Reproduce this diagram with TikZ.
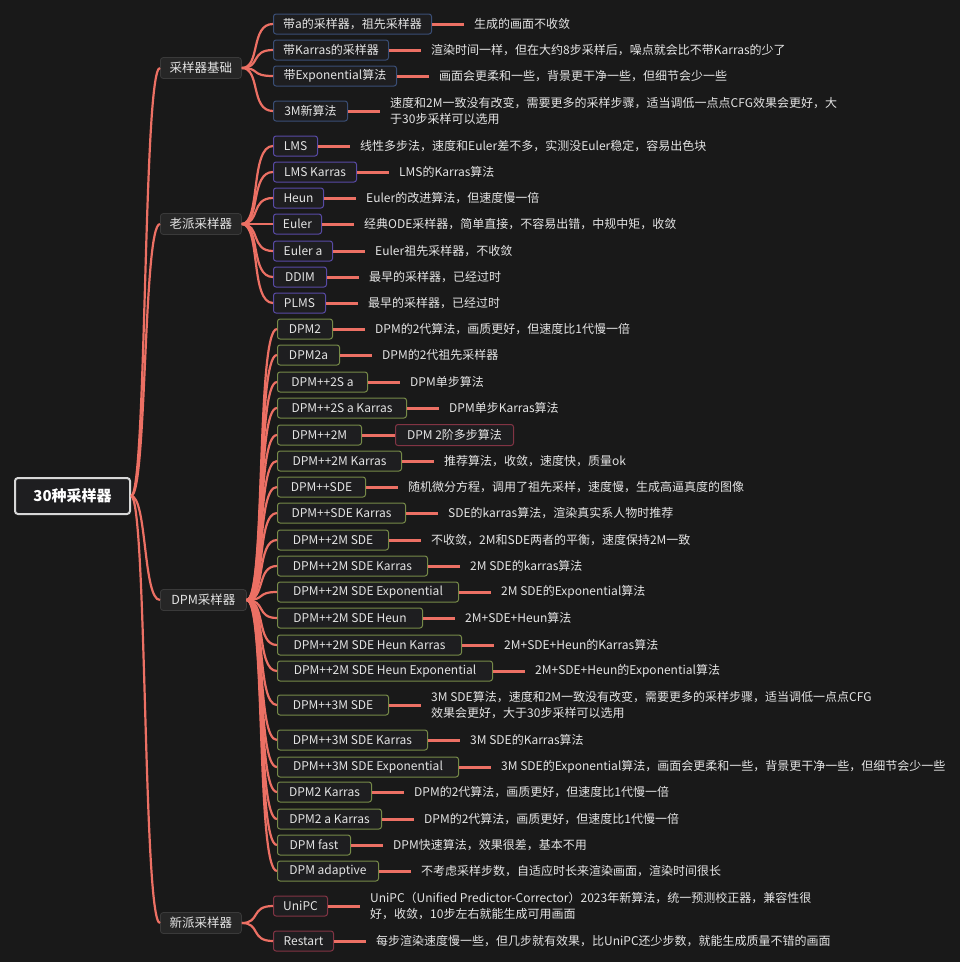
\documentclass[tikz,border=0pt]{standalone}
\usepackage{fontspec}
\setmainfont{Noto Sans CJK SC}
\definecolor{bgc}{RGB}{25,25,25}
\definecolor{boxfill}{RGB}{30,30,32}
\definecolor{lonefill}{RGB}{38,38,38}
\definecolor{loneborder}{RGB}{58,58,58}
\definecolor{txt}{RGB}{228,228,228}
\definecolor{conn}{RGB}{236,112,100}
\definecolor{blueB}{RGB}{58,78,118}
\definecolor{purpB}{RGB}{88,74,165}
\definecolor{greenB}{RGB}{118,138,72}
\definecolor{maroonB}{RGB}{130,52,68}
\definecolor{rootB}{RGB}{215,215,215}
% name, style, x, y, width, label, description
\newcommand{\mleaf}[7]{%
  \node[#2, minimum width=#5pt] (#1) at (#3,#4) {#6};
  \node[desc] (#1d) at ([xshift=42pt]#1.east) {#7};
  \draw[dline] (#1.east) -- ([xshift=-10pt]#1d.west);
}
\begin{document}
\begin{tikzpicture}[x=1pt,y=-1pt,
  rootbox/.style={draw=rootB, line width=2pt, fill=boxfill, rounded corners=3pt, text=white,
    font=\fontsize{15}{18}\selectfont\bfseries, minimum width=115pt, minimum height=36pt, inner sep=0},
  lone/.style={draw=loneborder, line width=0.8pt, fill=lonefill, rounded corners=3pt, text=txt,
    font=\fontsize{12.5}{15}\selectfont, minimum height=21pt, inner sep=0, anchor=west},
  leaf/.style={fill=boxfill, line width=1pt, rounded corners=2.5pt, text=txt,
    font=\fontsize{12}{14}\selectfont, minimum height=20pt, inner ysep=0, inner xsep=4pt, anchor=west},
  lblue/.style={leaf, draw=blueB},
  lpurp/.style={leaf, draw=purpB},
  lgreen/.style={leaf, draw=greenB},
  lmaroon/.style={leaf, draw=maroonB},
  desc/.style={anchor=west, inner sep=0, text=txt, font=\fontsize{12}{16}\selectfont, align=left},
  cline/.style={draw=conn, line width=2.2pt},
  dline/.style={draw=conn, line width=3pt}
]
\fill[bgc] (0,0) rectangle (960,962);
\useasboundingbox (0,0) rectangle (960,962);

% root and level-1
\node[rootbox, anchor=west] (root) at (14,496) {30种采样器};
\node[lone, minimum width=81pt] (k1) at (160,68) {采样器基础};
\node[lone, minimum width=81pt] (k2) at (160,224) {老派采样器};
\node[lone, minimum width=86pt] (k3) at (160,600) {DPM采样器};
\node[lone, minimum width=81pt] (k4) at (160,923) {新派采样器};
\foreach \k in {k1,k2,k3,k4}
  \draw[cline] (root.east) .. controls +(16,0) and +(-17,0) .. (\k.west);

% group 1
\mleaf{a1}{lblue}{273}{24}{158}{带a的采样器，祖先采样器}{生成的画面不收敛}
\mleaf{a2}{lblue}{273}{50}{115}{带Karras的采样器}{渲染时间一样，但在大约8步采样后，噪点就会比不带Karras的少了}
\mleaf{a3}{lblue}{273}{76}{123}{带Exponential算法}{画面会更柔和一些，背景更干净一些，但细节会少一些}
\mleaf{a4}{lblue}{273}{111}{74}{3M新算法}{速度和2M一致没有改变，需要更多的采样步骤，适当调低一点点CFG效果会更好，大\\于30步采样可以选用}
\foreach \c in {a1,a2,a3,a4}
  \draw[cline] (k1.east) .. controls +(19,0) and +(-23,0) .. (\c.west);

% group 2
\mleaf{b1}{lpurp}{273}{146}{44}{LMS}{线性多步法，速度和Euler差不多，实测没Euler稳定，容易出色块}
\mleaf{b2}{lpurp}{273}{172}{83}{LMS Karras}{LMS的Karras算法}
\mleaf{b3}{lpurp}{273}{198}{50}{Heun}{Euler的改进算法，但速度慢一倍}
\mleaf{b4}{lpurp}{273}{224}{48}{Euler}{经典ODE采样器，简单直接，不容易出错，中规中矩，收敛}
\mleaf{b5}{lpurp}{273}{251}{59}{Euler a}{Euler祖先采样器，不收敛}
\mleaf{b6}{lpurp}{273}{277}{53}{DDIM}{最早的采样器，已经过时}
\mleaf{b7}{lpurp}{273}{303}{52}{PLMS}{最早的采样器，已经过时}
\foreach \c in {b1,b2,b3,b4,b5,b6,b7}
  \draw[cline] (k2.east) .. controls +(19,0) and +(-23,0) .. (\c.west);

% group 3
\mleaf{c1}{lgreen}{277}{329}{55}{DPM2}{DPM的2代算法，画质更好，但速度比1代慢一倍}
\mleaf{c2}{lgreen}{277}{355}{62}{DPM2a}{DPM的2代祖先采样器}
\mleaf{c3}{lgreen}{277}{382}{90}{DPM++2S a}{DPM单步算法}
\mleaf{c4}{lgreen}{277}{408}{129}{DPM++2S a Karras}{DPM单步Karras算法}
\node[lgreen, minimum width=84pt] (c5) at (277,435) {DPM++2M};
\node[lmaroon, minimum width=118pt, minimum height=21pt] (c5d) at ([xshift=33pt]c5.east) {DPM 2阶多步算法};
\draw[dline] (c5.east) -- (c5d.west);
\mleaf{c6}{lgreen}{277}{461}{124}{DPM++2M Karras}{推荐算法，收敛，速度快，质量ok}
\mleaf{c7}{lgreen}{277}{487}{88}{DPM++SDE}{随机微分方程，调用了祖先采样，速度慢，生成高逼真度的图像}
\mleaf{c8}{lgreen}{277}{513}{128}{DPM++SDE Karras}{SDE的karras算法，渲染真实系人物时推荐}
\mleaf{c9}{lgreen}{277}{540}{111}{DPM++2M SDE}{不收敛，2M和SDE两者的平衡，速度保持2M一致}
\mleaf{c10}{lgreen}{277}{566}{150}{DPM++2M SDE Karras}{2M SDE的karras算法}
\mleaf{c11}{lgreen}{277}{592}{181}{DPM++2M SDE Exponential}{2M SDE的Exponential算法}
\mleaf{c12}{lgreen}{277}{618}{145}{DPM++2M SDE Heun}{2M+SDE+Heun算法}
\mleaf{c13}{lgreen}{277}{645}{184}{DPM++2M SDE Heun Karras}{2M+SDE+Heun的Karras算法}
\mleaf{c14}{lgreen}{277}{671}{215}{DPM++2M SDE Heun Exponential}{2M+SDE+Heun的Exponential算法}
\mleaf{c15}{lgreen}{277}{705}{111}{DPM++3M SDE}{3M SDE算法，速度和2M一致没有改变，需要更多的采样步骤，适当调低一点点CFG\\效果会更好，大于30步采样可以选用}
\mleaf{c16}{lgreen}{277}{740}{150}{DPM++3M SDE Karras}{3M SDE的Karras算法}
\mleaf{c17}{lgreen}{277}{767}{181}{DPM++3M SDE Exponential}{3M SDE的Exponential算法，画面会更柔和一些，背景更干净一些，但细节会少一些}
\mleaf{c18}{lgreen}{277}{792}{94}{DPM2 Karras}{DPM的2代算法，画质更好，但速度比1代慢一倍}
\mleaf{c19}{lgreen}{277}{819}{104}{DPM2 a Karras}{DPM的2代算法，画质更好，但速度比1代慢一倍}
\mleaf{c20}{lgreen}{277}{845}{73}{DPM fast}{DPM快速算法，效果很差，基本不用}
\mleaf{c21}{lgreen}{277}{871}{101}{DPM adaptive}{不考虑采样步数，自适应时长来渲染画面，渲染时间很长}
\foreach \c in {c1,c2,c3,c4,c5,c6,c7,c8,c9,c10,c11,c12,c13,c14,c15,c16,c17,c18,c19,c20,c21}
  \draw[cline] (k3.east) .. controls +(19,0) and +(-21,0) .. (\c.west);

% group 4
\mleaf{d1}{lmaroon}{273}{906}{54}{UniPC}{UniPC（Unified Predictor-Corrector）2023年新算法，统一预测校正器，兼容性很\\好，收敛，10步左右就能生成可用画面}
\mleaf{d2}{lmaroon}{273}{941}{60}{Restart}{每步渲染速度慢一些，但几步就有效果，比UniPC还少步数，就能生成质量不错的画面}
\foreach \c in {d1,d2}
  \draw[cline] (k4.east) .. controls +(19,0) and +(-23,0) .. (\c.west);
\end{tikzpicture}
\end{document}
